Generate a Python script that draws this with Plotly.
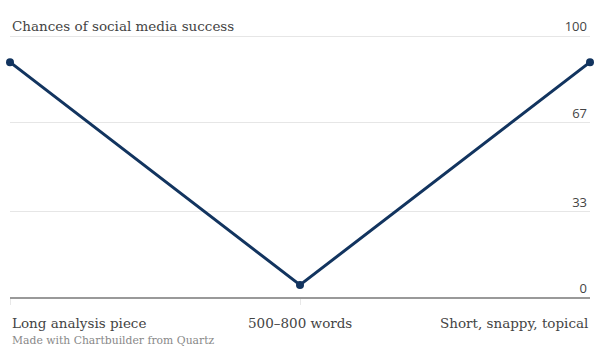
import plotly.graph_objects as go

categories = ["Long analysis piece", "500–800 words", "Short, snappy, topical"]
values = [90, 5, 90]
y_ticks = [0, 33, 67, 100]
title_text = "Chances of social media success"
credit_text = "Made with Chartbuilder from Quartz"

serif = "DejaVu Serif, Liberation Serif, serif"
sans = "Open Sans, Noto Sans, sans-serif"

TOP = 16
PLOT_H = 298 - TOP
y_max = 100 * PLOT_H / 262.0

fig = go.Figure()
fig.add_trace(go.Scatter(
    x=list(range(len(categories))), y=values, mode="lines+markers",
    line=dict(color="#12345f", width=3),
    marker=dict(color="#12345f", size=8),
    hoverinfo="skip", showlegend=False, cliponaxis=False,
))

anchors = ["left", "center", "right"]
for i, (c, a) in enumerate(zip(categories, anchors)):
    fig.add_annotation(x=i, xref="x", y=-15 / PLOT_H, yref="paper", text=c,
                       showarrow=False, xanchor=a, yanchor="top",
                       font=dict(family=serif, size=13.5, color="#444"))

fig.add_annotation(x=0, xref="paper", y=(298 - 26) / PLOT_H, yref="paper",
                   text=title_text, showarrow=False, xanchor="left",
                   yanchor="middle",
                   font=dict(family=serif, size=13.5, color="#444"))
fig.add_annotation(x=0, xref="paper", y=-34 / PLOT_H, yref="paper",
                   text=credit_text, showarrow=False, xanchor="left",
                   yanchor="top",
                   font=dict(family=serif, size=10.8, color="#888"))

fig.update_layout(
    width=600, height=360,
    margin=dict(l=10, r=10, t=TOP, b=62, pad=0),
    paper_bgcolor="white", plot_bgcolor="white",
    xaxis=dict(range=[0, 2], showticklabels=False, showgrid=False,
               zeroline=False, showline=False, ticks="outside",
               tickvals=list(range(len(categories))), ticklen=6,
               tickcolor="#e8e8e8", fixedrange=True),
    yaxis=dict(range=[0, y_max], side="right", tickvals=y_ticks,
               ticklabelposition="inside top", showgrid=True,
               gridcolor="#e6e6e6", gridwidth=1, zeroline=True,
               zerolinecolor="#999", zerolinewidth=1.5, showline=False,
               tickfont=dict(family=sans, size=13, color="#444"),
               fixedrange=True),
)

fig.write_html("out.html", config={"displayModeBar": False},
               post_script="document.body.style.margin='0';document.body.style.overflow='hidden';")
